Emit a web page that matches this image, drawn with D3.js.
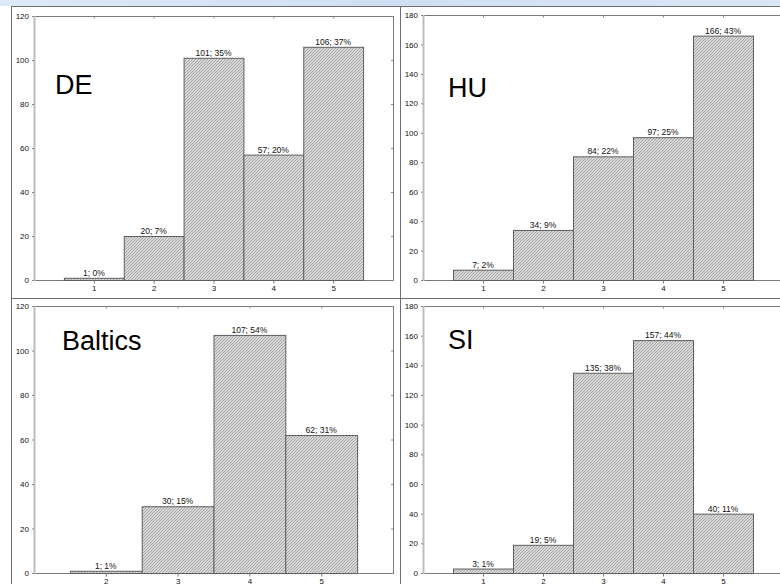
<!DOCTYPE html>
<html>
<head>
<meta charset="utf-8">
<script src="https://cdn.jsdelivr.net/npm/d3@7"></script>
<style>
html,body{margin:0;padding:0;background:#fff;}
svg{display:block;font-family:"Liberation Sans",Arial,sans-serif;}
</style>
</head>
<body>
<svg id="chart" width="780" height="584"></svg>
<script>
// ---- data ----
const categories = [1, 2, 3, 4, 5];
const balticsCategories = [2, 3, 4, 5];
const deValues = [1, 20, 101, 57, 106];
const dePercent = [0, 7, 35, 20, 37];
const huValues = [7, 34, 84, 97, 166];
const huPercent = [2, 9, 22, 25, 43];
const balticsValues = [1, 30, 107, 62];
const balticsPercent = [1, 15, 54, 31];
const siValues = [3, 19, 135, 157, 40];
const siPercent = [1, 5, 38, 44, 11];
const yTicks120 = [0, 20, 40, 60, 80, 100, 120];
const yTicks180 = [0, 20, 40, 60, 80, 100, 120, 140, 160, 180];
const panelNames = ["DE", "HU", "Baltics", "SI"];

const svg = d3.select("#chart");
const defs = svg.append("defs");

// hatch pattern
const pat = defs.append("pattern").attr("id", "hatch")
  .attr("patternUnits", "userSpaceOnUse").attr("width", 3).attr("height", 3);
pat.append("rect").attr("width", 3).attr("height", 3).attr("fill", "#d9d9d9");
pat.append("path").attr("d", "M-1,1 l2,-2 M0,3 l3,-3 M2,4 l2,-2")
  .attr("stroke", "#9e9e9e").attr("stroke-width", 0.9);

const grad = defs.append("linearGradient").attr("id", "topbg").attr("x1", 0).attr("x2", 1);
grad.append("stop").attr("offset", 0).attr("stop-color", "#dfe9f7");
grad.append("stop").attr("offset", 0.5).attr("stop-color", "#cfdff3");
grad.append("stop").attr("offset", 1).attr("stop-color", "#dbe6f5");

// top slide background strip
svg.append("rect").attr("x", 0).attr("y", 0).attr("width", 780).attr("height", 6).attr("fill", "url(#topbg)");

// panel frames
const frameColor = "#6e6e6e";
svg.append("rect").attr("x", 11.5).attr("y", 6.5).attr("width", 800).attr("height", 600)
  .attr("fill", "#fff").attr("stroke", frameColor);
svg.append("line").attr("x1", 400.5).attr("x2", 400.5).attr("y1", 6).attr("y2", 584).attr("stroke", frameColor);
svg.append("line").attr("x1", 11).attr("x2", 780).attr("y1", 298.5).attr("y2", 298.5).attr("stroke", frameColor);

const panels = [
  {name: panelNames[0], cats: categories, values: deValues, pct: dePercent, xDomain: [0, 6], yMax: 120, ticks: yTicks120,
   box: {l: 34, r: 393, t: 16, b: 280}, label: {x: 55, y: 94}},
  {name: panelNames[1], cats: categories, values: huValues, pct: huPercent, xDomain: [0, 6], yMax: 180, ticks: yTicks180,
   box: {l: 423, r: 783, t: 15, b: 280}, label: {x: 448, y: 97}},
  {name: panelNames[2], cats: balticsCategories, values: balticsValues, pct: balticsPercent, xDomain: [1, 6], yMax: 120, ticks: yTicks120,
   box: {l: 34, r: 393, t: 306, b: 573}, label: {x: 62, y: 350}},
  {name: panelNames[3], cats: categories, values: siValues, pct: siPercent, xDomain: [0, 6], yMax: 180, ticks: yTicks180,
   box: {l: 423, r: 783, t: 306, b: 573}, label: {x: 448, y: 349}}
];

panels.forEach(p => {
  const g = svg.append("g");
  const x = d3.scaleLinear().domain(p.xDomain).range([p.box.l, p.box.r]);
  const y = d3.scaleLinear().domain([0, p.yMax]).range([p.box.b, p.box.t]);

  // plot frame
  g.append("rect").attr("x", p.box.l + 0.5).attr("y", p.box.t + 0.5)
    .attr("width", p.box.r - p.box.l).attr("height", p.box.b - p.box.t)
    .attr("fill", "#fff").attr("stroke", "#7a7a7a");

  const rows = p.cats.map((c, i) => ({c, v: p.values[i], pc: p.pct[i]}));

  // bars
  g.selectAll("rect.bar").data(rows)
    .join("rect").attr("class", "bar")
    .attr("x", d => x(d.c - 0.5) + 0.5)
    .attr("y", d => y(d.v) + 0.5)
    .attr("width", d => x(d.c + 0.5) - x(d.c - 0.5))
    .attr("height", d => y(0) - y(d.v))
    .attr("fill", "url(#hatch)").attr("stroke", "#5e5e5e").attr("stroke-width", 1);

  // value labels
  g.selectAll("text.val").data(rows)
    .join("text").attr("class", "val")
    .attr("x", d => x(d.c)).attr("y", d => y(d.v) - 2)
    .attr("text-anchor", "middle").attr("font-size", "8.5px").attr("fill", "#111")
    .text(d => d.v + "; " + d.pc + "%");

  // left axis (light thick line)
  g.append("line").attr("x1", p.box.l + 0.5).attr("x2", p.box.l + 0.5)
    .attr("y1", p.box.t).attr("y2", p.box.b + 1).attr("stroke", "#bdbdbd").attr("stroke-width", 2);

  // y axis ticks + labels
  const yAxis = d3.axisLeft(y).tickValues(p.ticks).tickSize(2).tickPadding(3).tickFormat(d3.format("d"));
  const ya = g.append("g").attr("transform", `translate(${p.box.l},0)`).call(yAxis);
  ya.select(".domain").remove();
  ya.selectAll("line").attr("stroke", "#888");
  ya.selectAll("text").attr("font-size", "8px").attr("fill", "#111").attr("font-family", "Liberation Sans, Arial, sans-serif");

  // right inner ticks
  const yr = d3.axisLeft(y).tickValues(p.ticks).tickSize(2).tickFormat("");
  const yrg = g.append("g").attr("transform", `translate(${p.box.r},0)`).call(yr);
  yrg.select(".domain").remove();
  yrg.selectAll("line").attr("stroke", "#888");

  // x axis
  const xAxis = d3.axisBottom(x).tickValues(p.cats).tickSize(3).tickPadding(2).tickFormat(d3.format("d"));
  const xa = g.append("g").attr("transform", `translate(0,${p.box.b + 0.5})`).call(xAxis);
  xa.select(".domain").remove();
  xa.selectAll("line").attr("stroke", "#777");
  xa.selectAll("text").attr("font-size", "8px").attr("fill", "#111").attr("font-family", "Liberation Sans, Arial, sans-serif");

  // top inner ticks
  const xt = d3.axisBottom(x).tickValues(p.cats).tickSize(2).tickFormat("");
  const xtg = g.append("g").attr("transform", `translate(0,${p.box.t + 0.5})`).call(xt);
  xtg.select(".domain").remove();
  xtg.selectAll("line").attr("stroke", "#888");

  // panel name
  g.append("text").attr("x", p.label.x).attr("y", p.label.y)
    .attr("font-size", "27px").attr("fill", "#000").text(p.name);
});
</script>
</body>
</html>
